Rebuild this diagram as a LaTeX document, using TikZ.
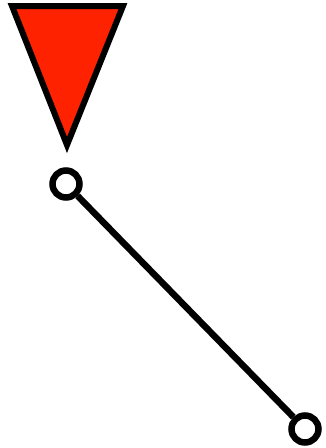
\documentclass[tikz,border=0pt]{standalone}
\definecolor{flagred}{HTML}{FF2200}
\tikzset{
  flag/.style={draw=black, fill=flagred, line width=6pt, miter limit=10},
  joint/.style={circle, draw=black, fill=white, line width=6.5pt, minimum size=27pt, inner sep=0pt},
  link/.style={draw=black, line width=6.5pt}
}
\begin{document}
\begin{tikzpicture}[x=1pt,y=-1pt]
\useasboundingbox (0,0) rectangle (326,448);
\draw[flag] (12,6) -- (123,6) -- (67,145) -- cycle;
\node[joint] (a) at (66,184) {};
\node[joint] (b) at (305,429) {};
\draw[link] (a) -- (b);
\end{tikzpicture}
\end{document}
